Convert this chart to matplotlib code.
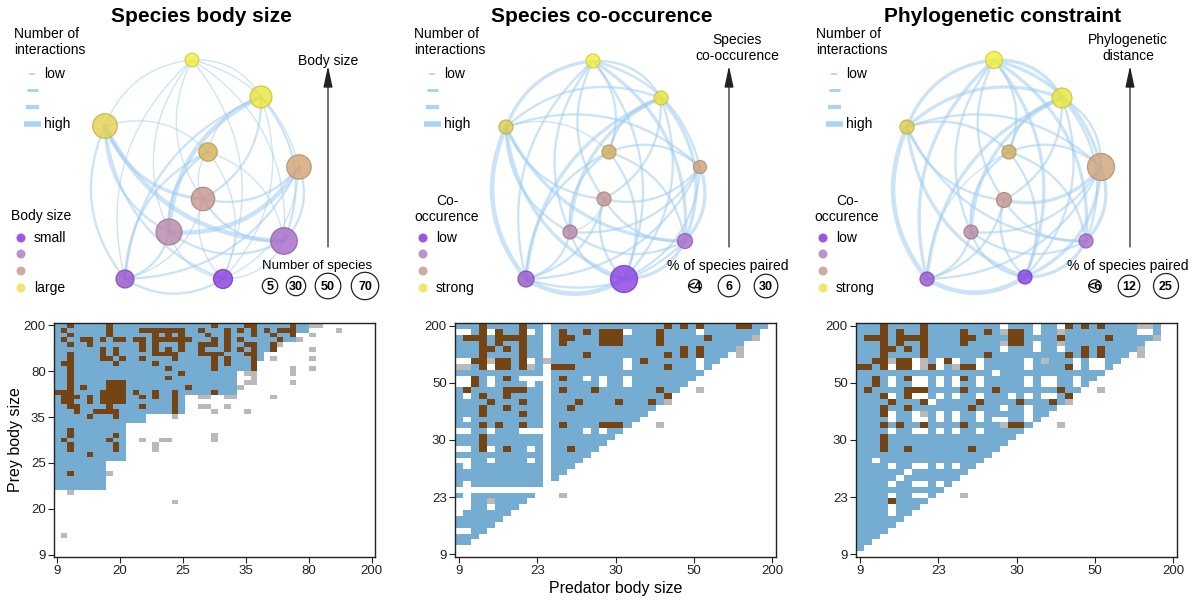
import numpy as np
import matplotlib
matplotlib.use("Agg")
import matplotlib.pyplot as plt
from matplotlib.patches import Circle
from matplotlib.colors import ListedColormap, to_rgb

plt.rcParams['font.family'] = ['Liberation Sans', 'DejaVu Sans']

W, H = 1195, 600
PT = 72 / 100  # points per pixel at dpi 100

# ------------------------------------------------------------------
# Network panels (layout in pixel units of each panel)
# ------------------------------------------------------------------
titles = ["Species body size", "Species co-occurence", "Phylogenetic constraint"]
title_x = [201, 202, 208]

# node layout, radius (px) and colour for each panel
body_x = [192, 261, 105, 208, 299, 203, 169, 284, 125, 223]
body_y = [60, 97, 126, 152, 167, 199, 232, 241, 279, 279]
body_r = [6.8, 11, 12.3, 9.2, 12.2, 11.7, 13, 13.3, 9, 9.5]
body_col = ['#f3ef3c', '#ece43f', '#e3d150', '#d6b35a', '#d3a574',
            '#c8978e', '#bb89a8', '#a86bc8', '#9656cc', '#8a3fe2']

cooc_x = [193, 261, 106, 209, 300, 204, 170, 285, 126, 224]
cooc_y = [61, 98, 127, 152, 167, 199, 232, 241, 279, 279]
cooc_r = [7, 7, 7, 7, 6.5, 7, 7, 7.5, 8, 13.5]
cooc_col = ['#f3ef3c', '#ebe43e', '#dccd4e', '#d0ae5c', '#cfa377',
            '#c6968e', '#ba89a6', '#a96ac8', '#9a58cc', '#8a42e4']

phylo_x = [199, 267, 112, 214, 306, 209, 176, 291, 132, 230]
phylo_y = [60, 98, 127, 152, 167, 200, 232, 241, 279, 277]
phylo_r = [8.5, 10, 7, 7, 13.5, 7.5, 7, 7, 7, 7]
phylo_col = ['#f3ef3c', '#ebe43e', '#dccd4e', '#d0ae5c', '#d0a47a',
             '#c6968e', '#ba89a6', '#a96ac8', '#9a58cc', '#8a42e4']

# links: (from, to, interaction class 1..4)
edges_body = [
    (0, 1, 1), (0, 2, 1), (0, 4, 1), (0, 5, 1), (0, 6, 1), (0, 7, 1), (0, 8, 1), (0, 9, 1),
    (1, 3, 1), (1, 5, 2), (1, 6, 4), (1, 7, 2), (1, 8, 2), (1, 9, 1),
    (2, 3, 1), (2, 5, 3), (2, 6, 2), (2, 7, 4), (2, 8, 2), (2, 9, 2),
    (3, 5, 1), (3, 6, 2), (3, 7, 1), (3, 8, 2), (3, 9, 1),
    (4, 5, 2), (4, 6, 4), (4, 7, 2), (4, 8, 2), (4, 9, 1),
    (5, 7, 2), (5, 8, 1), (5, 9, 1),
    (6, 7, 2), (6, 8, 2), (6, 9, 1),
    (7, 9, 1), (8, 9, 2)]

edges_cooc = [
    (0, 1, 2), (0, 2, 3), (0, 3, 2), (0, 4, 2), (0, 5, 2), (0, 6, 2), (0, 7, 3), (0, 8, 2), (0, 9, 2),
    (1, 2, 2), (1, 3, 2), (1, 5, 2), (1, 6, 3), (1, 7, 3), (1, 8, 3), (1, 9, 2),
    (2, 3, 1), (2, 4, 2), (2, 5, 2), (2, 6, 2), (2, 7, 3), (2, 8, 4), (2, 9, 3),
    (3, 4, 2), (3, 6, 2), (3, 7, 2), (3, 8, 2), (3, 9, 2),
    (4, 5, 2), (4, 6, 2), (4, 7, 3), (4, 8, 2), (4, 9, 2),
    (5, 6, 1), (5, 7, 2), (5, 8, 2), (5, 9, 2),
    (6, 7, 2), (6, 8, 2), (6, 9, 2),
    (7, 8, 2), (7, 9, 3), (8, 9, 4)]

edges_phylo = [
    (0, 1, 3), (0, 2, 3), (0, 3, 2), (0, 4, 3), (0, 5, 2), (0, 6, 2), (0, 7, 3), (0, 8, 3), (0, 9, 3),
    (1, 2, 3), (1, 3, 2), (1, 4, 2), (1, 5, 2), (1, 6, 3), (1, 7, 2), (1, 8, 3), (1, 9, 2),
    (2, 3, 2), (2, 4, 2), (2, 5, 2), (2, 7, 2), (2, 8, 4), (2, 9, 3),
    (3, 4, 2), (3, 6, 2), (3, 7, 2), (3, 8, 1), (3, 9, 2),
    (4, 5, 3), (4, 6, 2), (4, 7, 3), (4, 8, 2), (4, 9, 3),
    (5, 7, 2), (5, 8, 2), (5, 9, 2),
    (6, 7, 2), (6, 8, 2), (6, 9, 2),
    (7, 9, 3), (8, 9, 4)]

edge_px = {1: 1.3, 2: 2.3, 3: 3.3, 4: 4.6}
EDGE_COLOR = '#9fcdf2'
LEGEND_LINE_COLOR = '#aad4f5'

# legends
interaction_labels = ["low", "", "", "high"]
colour_legend_cols = ['#8f46e0', '#b587c8', '#caa19d', '#eee45a']
colour_titles = ["Body size", "Co-\noccurence", "Co-\noccurence"]
colour_labels = [["small", "", "", "large"], ["low", "", "", "strong"], ["low", "", "", "strong"]]
axis_titles = ["Body size", "Species\nco-occurence", "Phylogenetic\ndistance"]
size_titles = ["Number of species", "% of species paired", "% of species paired"]
size_labels = [["5", "30", "50", "70"], ["<4", "6", "30"], ["<6", "12", "25"]]
size_radii = [[7.7, 9.7, 12.8, 13.7], [6.5, 10.8, 11.8], [6.3, 10.8, 12.5]]
size_x = [[270, 296, 328, 365], [295, 329, 366], [300, 334, 371]]

panels = [
    dict(x=body_x, y=body_y, r=body_r, c=body_col, e=edges_body),
    dict(x=cooc_x, y=cooc_y, r=cooc_r, c=cooc_col, e=edges_cooc),
    dict(x=phylo_x, y=phylo_y, r=phylo_r, c=phylo_col, e=edges_phylo),
]
panel_off = [0, 400, 795]
leg_dx = [0, 0, 7]
arrow_x = [328, 329, 335]
arrow_txt_x = [328, 337, 333]
colour_title_x = [11, 47, 52]
colour_dot_x = [21, 23, 28]

fig = plt.figure(figsize=(W / 100, H / 100), dpi=100)


def darker(c, f=0.85):
    r, g, b = to_rgb(c)
    return (r * f, g * f, b * f)


def draw_network(ax, p):
    xs = np.array(p['x'], float)
    ys = np.array(p['y'], float)
    cx, cy = xs.mean(), ys.mean()
    t = np.linspace(0, 1, 50)
    for a, b, w in p['e']:
        p0 = np.array([xs[a], ys[a]])
        p2 = np.array([xs[b], ys[b]])
        mid = (p0 + p2) / 2
        d = p2 - p0
        L = np.hypot(*d)
        n = np.array([-d[1], d[0]]) / L
        if np.dot(n, mid - np.array([cx, cy])) < 0:
            n = -n
        p1 = mid + n * 0.3 * L
        bx = (1 - t) ** 2 * p0[0] + 2 * (1 - t) * t * p1[0] + t ** 2 * p2[0]
        by = (1 - t) ** 2 * p0[1] + 2 * (1 - t) * t * p1[1] + t ** 2 * p2[1]
        ax.plot(bx, by, color=EDGE_COLOR, lw=edge_px[w] * PT, alpha=0.55,
                solid_capstyle='round', zorder=1)
    for x, y, r, c in zip(xs, ys, p['r'], p['c']):
        ax.add_patch(Circle((x, y), r, facecolor=c, edgecolor=darker(c),
                            lw=0.9, alpha=0.82, zorder=3))


for k in range(3):
    off = panel_off[k]
    ax = fig.add_axes([off / W, 1 - 305 / H, 400 / W, 305 / H])
    ax.set_xlim(0, 400)
    ax.set_ylim(305, 0)
    ax.axis('off')

    ax.text(title_x[k], 17, titles[k], ha='center', va='center',
            fontsize=15, fontweight='bold')

    draw_network(ax, panels[k])

    # line-width legend
    dx = leg_dx[k]
    ax.text(14 + dx, 27, "Number of\ninteractions", ha='left', va='top',
            fontsize=10, linespacing=1.2)
    for i, (lab, yy) in enumerate(zip(interaction_labels, [74, 90, 107, 124])):
        half = [3, 5.5, 6.5, 8.5][i]
        lw_px = [1.6, 3.0, 4.3, 5.5][i]
        ax.plot([32 + dx - half, 32 + dx + half], [yy, yy], color=LEGEND_LINE_COLOR,
                lw=lw_px * PT, solid_capstyle='butt')
        if lab:
            ax.text(44 + dx, yy, lab, ha='left', va='center', fontsize=10)

    # colour legend
    if k == 0:
        ax.text(colour_title_x[k], 216, colour_titles[k], ha='left', va='center', fontsize=10)
    else:
        ax.text(colour_title_x[k], 209, colour_titles[k], ha='center', va='center',
                fontsize=10, linespacing=1.2)
    for i, yy in enumerate([238, 254, 271, 288]):
        ax.add_patch(Circle((colour_dot_x[k], yy), 4.5, facecolor=colour_legend_cols[i],
                            edgecolor='none', alpha=0.9))
        lab = colour_labels[k][i]
        if lab:
            ax.text(colour_dot_x[k] + 13, yy, lab, ha='left', va='center', fontsize=10)

    # gradient arrow
    ax.annotate('', xy=(arrow_x[k], 66), xytext=(arrow_x[k], 247),
                arrowprops=dict(arrowstyle='-|>,head_length=1.3,head_width=0.28',
                                lw=0.9, color='#222222', shrinkA=0, shrinkB=0))
    if k == 0:
        ax.text(arrow_txt_x[k], 61, axis_titles[k], ha='center', va='center', fontsize=10)
    else:
        ax.text(arrow_txt_x[k], 48, axis_titles[k], ha='center', va='center',
                fontsize=10, linespacing=1.2)

    # node-size legend
    ax.text(np.mean([size_x[k][0], size_x[k][-1]]) + (0 if k == 0 else -3), 266,
            size_titles[k], ha='center', va='center', fontsize=9.5 if k == 0 else 10)
    for lab, rr, xx in zip(size_labels[k], size_radii[k], size_x[k]):
        ax.add_patch(Circle((xx, 286), rr, facecolor='white', edgecolor='#222222', lw=0.9))
        ax.text(xx, 286.5, lab, ha='center', va='center', fontsize=9, fontweight='bold')

# ------------------------------------------------------------------
# Interaction matrices: '.' empty, 'o' possible, '#' observed, '+' outside range
# rows run from the largest prey (top) to the smallest (bottom)
# ------------------------------------------------------------------
body_matrix = [
    "oo#ooooo#o oooooooooo oooo#oooo# #ooooo#oo+ +........",
    "o#oooooo#o ooo####### oo#ooo#o#o #o#o###oo. ...+.....",
    "oo#ooooo#o ooooo#o#o# ooo#oo#ooo #oo#oo#..+ .........",
    "o#oo##o#o# #o##o##### #ooo#o#o#o oooo#oo+.. .........",
    "oo#oo#oooo ooo#o#ooo# oo###o#oo# #oo#+..... .........",
    "ooooooo#o# ooo#o#o#o# oo#ooo#o#o #oo#.....+ .........",
    "oo#oooo#o# ooooo####o oo####ooo# #o........ .........",
    "oo#oooo##o #oo#oooo#o oooo#o#ooo #o.+.....+ .........",
    "o##oooooo# ooooo#oooo oooo#o#ooo #......... .........",
    "oo#ooooooo ooooooo#oo oooo#ooooo #.....+..+ .........",
    "oo#ooooooo ooooooooo# oooooooo.+ +.....+... .........",
    "oo#ooooooo ooooooo#oo oooooooo.. +......... .........",
    "oo#ooooo## #ooooooooo oooooooo.+ +.....+... .........",
    "oo#o#ooo## #ooooooooo #ooooooo+. .......... .........",
    "###oooo### #o#oo#oo#o oooo#ooo.. .......... .........",
    "o###o#o### #oo#o#oo#o ..++..++.. ...+...... .........",
    "o##oo#o### #ooooooo#o .......... .......... .........",
    "oo##oooo#o ooo#oooo#o ..++..+... .......... .........",
    "ooo#oo#### oooooooo#o ....+....+ .......... .........",
    "ooooo#ooo# oooo....+. .......... .......... .........",
    "oooooooooo oooo......",
    "oooooooooo o.........",
    "oo#ooooooo o.........",
    "oo#oooooo# o......... ....+.....",
    "o#oooooo#o o..+..++.. ....+.....",
    "oo#oooooo# o....+....",
    "oo#oooooo# o....+....",
    "ooooo#oooo o.........",
    "oooooooooo o.........",
    "oooooooo..",
    "oooooooo..",
    "oo#ooooo+.",
    "oooooooo..",
    "oooooooo..",
    "oooooooo..",
    "..+.......",
    "",
    ".......... ........+.",
    "", "", "", "", "", "",
    ".+........",
    "", "", "", "",
]

cooc_matrix = [
    "ooo#oooo#o o.oooooooo oooooo#o#o #oooo##oo.",
    "..o#.#oo#. o.o#oo#o## #.ooo#oooo .ooooooo..",
    "o###o####o o.o##ooo## #oooo#oooo o#ooooo+..",
    "ooo#o#oo#o o.o#oooo## #oooo#oooo oooooo....",
    "ooo##o#o#o o.oooooooo oooooooo#o #oooo+....",
    "ooo#oooo#o o.oooo#ooo oooooo#o#o #ooo.+....",
    "..##+##o#. o+oooooooo o.o#oooooo .oo.......",
    "++o#.##o#+ o.###ooooo o.oooo#ooo .o........",
    "oooooooooo o.oooooooo oooooooooo o.........",
    "..#o.o#o.. ..o#oo.o.o o.oooooooo ..........",
    "..#o.oooo. o.oooooo.o o.ooooooo. ..........",
    "o#oooo###o o.o#ooo#oo ooooo#oo.. +.........",
    "o.o#oo#ooo o.oooooooo oooooo#... ..........",
    "oooo#ooo#o o.ooo#oooo #ooo#o+... ..........",
    "ooo#oo#ooo o.oo#ooooo ooooo..... ..........",
    "ooo#oooo#o o.oooooooo oooo...... ..........",
    "o.oooooooo o.oooooooo ooo....... ..........",
    "ooo#o#oo#o o.o#oooo## #o...+.... ..........",
    "..oo.ooo.. ..oooo.o.o o......... ..........",
    "ooo#oooooo o.oooooooo",
    "ooo#oooooo o.ooooooo.",
    "..o#.o#oo. o.oo#ooo..",
    "oooooooooo o.ooooo...",
    "..oo.oooo. o.oooo....",
    "o.oooooooo o.ooo.....",
    "oooooooooo o.oo......",
    "oooooooooo o.o.......",
    "o.oooooooo o.........",
    "",
    "o.oooooooo ...+......",
    "..oo+oooo.",
    "..oo.ooo..",
    ".oooooo...",
    "oooooo....",
    "ooooo.....",
    "..oo......",
    "ooo.......",
    "oo........",
    "",
    "",
]

phylo_matrix = [
    "ooo#oooo#o oooooooo.o oo.oo.#o#o #oooo++o..",
    "ooo#o#oo#o ooo#oo#o+# #o.oo+oooo ooooo..o..",
    "o###o####o ooo##oooo# #oooo#oooo o#ooooo+..",
    "ooo#o#oo#o ooo#oooo+# #o.oo+oooo oooooo....",
    "ooo##o#o#o oooooooo.o oo.oo.oo#o #oooo+....",
    "ooo#oooo#o oooooo#ooo oooooo#o#o #ooo.+....",
    "oo##+##.+o .#.oo.oooo o.o+ooo.o. .oo.......",
    "##o#.##.+# .o+##.oooo o.oooo#.o. .o........",
    "oooooooooo ooooooo.oo oooooooooo o.........",
    "oo#o.o#..o .o.#o.oooo o.o..oo.oo ..........",
    "oo#o.oo..o .o.oo.oooo o.o..oo.o. ..........",
    "o#oooo###o ooo#ooo#oo ooooo#oo.. +.........",
    "ooo#.o#..o .o.oo.ooo. o.o..o#... ..........",
    "oooo#ooo#. ooooo#oooo #ooo#o+... ..........",
    "ooo#oo#ooo oooo#ooo.o o.ooo..... ..........",
    "ooo#.oo.+o .o.oo.oooo o.oo......",
    "oooo.oo..o .o.oo.o..o o.o.......",
    "ooo#o#oo#o ooo#oooo+# #o...+....",
    "oooo.oo..o .o.oo.oooo o.........",
    "ooo#oooooo oooooooooo",
    "ooo#oooooo ooooooooo.",
    "ooo#oo#ooo oooo#ooo..",
    "oooooooooo ooooooo...",
    "oo.ooooooo oooooo....",
    "oooo.oo..o .o.oo.....",
    "oooooo.ooo oooo......",
    "ooooo.oooo ooo.......",
    "oooo.oo..o .o........",
    "oooooooooo o.........",
    "oooo.oo..o ...+......",
    "oooo#oooo.",
    "oooo.ooo..",
    "oooo.oo...",
    "oooooo....",
    "ooooo.....",
    "oooo......",
    "ooo.......",
    "oo........",
    "o.........",
    "",
]

body_ticks = ["9", "20", "25", "35", "80", "200"]
other_ticks = ["9", "23", "30", "50", "200"]

codes = {'.': 0, 'o': 1, '#': 2, '+': 3}
cell_cmap = ListedColormap(['white', '#74add1', '#744414', '#b9b9b9'])


def to_grid(rows, n):
    grid = np.zeros((n, n), int)
    for r in range(n):
        s = rows[r].replace(' ', '') if r < len(rows) else ''
        s = s.ljust(n, '.')[:n]
        grid[r] = [codes[ch] for ch in s]
    return grid


matrices = [(body_matrix, 49, body_ticks), (cooc_matrix, 40, other_ticks),
            (phylo_matrix, 40, other_ticks)]
mat_left = [54, 455, 856]

for k, (rows, n, ticks) in enumerate(matrices):
    ax = fig.add_axes([mat_left[k] / W, 43 / H, 321 / W, 234 / H])
    grid = to_grid(rows, n)
    ax.imshow(grid, cmap=cell_cmap, vmin=-0.5, vmax=3.5, interpolation='nearest',
              aspect='auto', extent=(-0.5, n - 0.5, n - 0.5, -0.5))
    pos = np.linspace(0, n - 1, len(ticks))
    ax.set_xticks(pos)
    ax.set_xticklabels(ticks)
    ax.set_yticks(pos)
    ax.set_yticklabels(ticks[::-1])
    ax.tick_params(direction='out', length=4, width=0.8, labelsize=9.5, pad=2,
                   colors='#222222', labelcolor='#222222')
    for sp in ax.spines.values():
        sp.set_linewidth(1.0)
        sp.set_color('#222222')
    if k == 0:
        ax.set_ylabel("Prey body size", fontsize=11.5, labelpad=0.5)
    if k == 1:
        ax.set_xlabel("Predator body size", fontsize=11.5, labelpad=3)

fig.savefig("out.png", dpi=100)
